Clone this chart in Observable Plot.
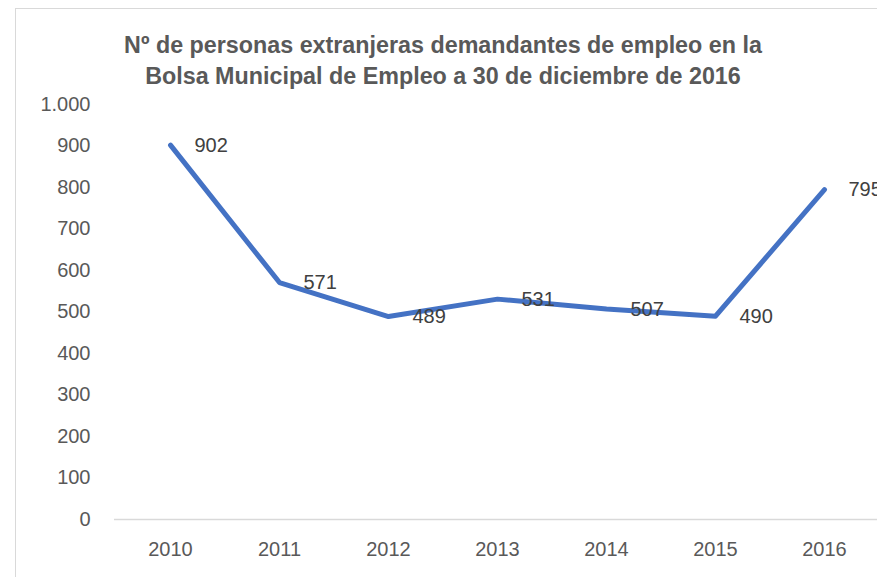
<!DOCTYPE html>
<html>
<head>
<meta charset="utf-8">
<script src="https://cdn.jsdelivr.net/npm/d3@7"></script>
<script src="https://cdn.jsdelivr.net/npm/@observablehq/plot@0.6"></script>
<style>
  html, body { margin: 0; padding: 0; background: #fff; overflow: hidden; }
  body { width: 877px; height: 577px; position: relative; font-family: "Liberation Sans", Arial, sans-serif; }
  #frame { position: absolute; left: 15px; top: 8px; width: 900px; height: 600px; border-left: 1px solid #d9d9d9; border-top: 1px solid #d9d9d9; }
  #title { position: absolute; left: 0; top: 30px; width: 886px; text-align: center; font-weight: bold; font-size: 23.3px; line-height: 31px; color: #595959; }
  #chart { position: absolute; left: 0; top: 95px; }
</style>
</head>
<body>
<div id="frame"></div>
<div id="title">Nº de personas extranjeras demandantes de empleo en la<br>Bolsa Municipal de Empleo a 30 de diciembre de 2016</div>
<div id="chart"></div>
<script>
const years = ["2010", "2011", "2012", "2013", "2014", "2015", "2016"];
const values = [902, 571, 489, 531, 507, 490, 795];
const yTicks = [0, 100, 200, 300, 400, 500, 600, 700, 800, 900, 1000];

const data = years.map((y, i) => ({year: y, value: values[i]}));
const esFormat = d3.formatLocale({decimal: ",", thousands: ".", grouping: [3], currency: ["", "€"]}).format(",d");

const plot = Plot.plot({
  width: 877,
  height: 482,
  marginLeft: 114,
  marginRight: -2,
  marginTop: 9,
  marginBottom: 58,
  style: {fontFamily: "Liberation Sans, Arial, sans-serif", fontSize: "20px", color: "#595959", background: "transparent", overflow: "visible"},
  x: {type: "point", domain: years, padding: 0.5, label: null, axis: null},
  y: {domain: [0, 1000], label: null, axis: null},
  marks: [
    Plot.ruleY([0], {stroke: "#d9d9d9", strokeWidth: 1.5}),
    Plot.axisY(yTicks, {tickSize: 0, tickPadding: 24, tickFormat: esFormat, label: null, fill: "#595959", fontSize: 20}),
    Plot.axisX(years, {tickSize: 0, tickPadding: 22, label: null, fill: "#595959", fontSize: 20}),
    Plot.line(data, {x: "year", y: "value", stroke: "#4472C4", strokeWidth: 5, strokeLinecap: "round", strokeLinejoin: "round"}),
    Plot.text(data, {x: "year", y: "value", text: d => String(d.value), textAnchor: "start", dx: 24, fill: "#404040", fontSize: 20})
  ]
});
document.getElementById("chart").appendChild(plot);
</script>
</body>
</html>
